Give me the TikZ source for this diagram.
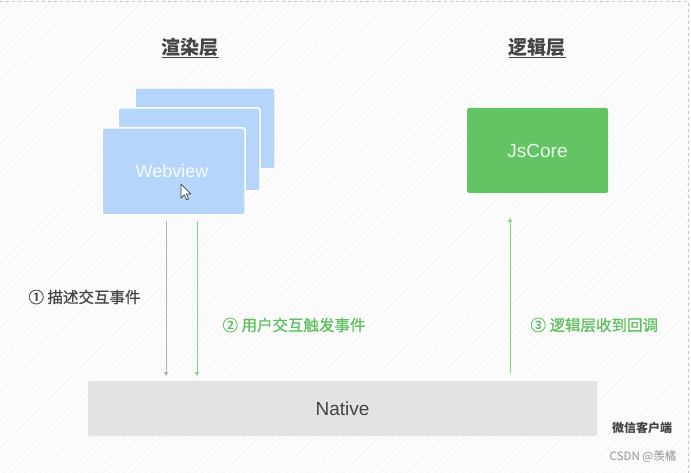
\documentclass[tikz,border=0pt]{standalone}
\usepackage{fontspec}
\setmainfont{Noto Sans CJK SC}
\newfontfamily\latinsans{Liberation Sans}
\newfontfamily\labfont[FakeBold=0.7]{Noto Sans CJK SC}
\usetikzlibrary{arrows.meta,patterns.meta}
\definecolor{webblue}{HTML}{B5D5FB}
\definecolor{jsgreen}{HTML}{63C464}
\definecolor{nativegray}{HTML}{E3E3E4}
\definecolor{linegreen}{HTML}{86D386}
\definecolor{labgreen}{HTML}{5CC05C}
\definecolor{darktext}{HTML}{444444}
\tikzset{
  layertitle/.style={font=\fontsize{19}{19}\selectfont\bfseries, text=darktext},
  webbox/.style={draw=white, line width=1.5pt, fill=webblue, rounded corners=1.5pt},
  jsbox/.style={fill=jsgreen, rounded corners=1.5pt},
  nativebox/.style={fill=nativegray, rounded corners=2pt},
  boxtext/.style={font=\latinsans\fontsize{18}{18}\selectfont, text=white!92!webblue},
  flowlabel/.style={font=\labfont\fontsize{15.5}{15.5}\selectfont},
  grayflow/.style={draw=gray!60, line width=0.9pt, -{Triangle[length=4pt,width=4.5pt]}},
  greenflow/.style={draw=linegreen, line width=0.9pt, -{Triangle[length=4pt,width=4.5pt]}},
}
\begin{document}
\begin{tikzpicture}[x=1pt,y=-1pt]
\useasboundingbox (0,0) rectangle (691,473);
% background
\fill[white!95!gray] (0,0) rectangle (691,473);
\fill[pattern={Lines[angle=45,distance=5pt,line width=1.2pt]}, pattern color=white] (0,0) rectangle (691,473);
\draw[gray!45, dashed, line width=0.6pt] (0,1) -- (688,1) -- (688,473);

% titles
\node[layertitle] (tr) at (190,48) {\underline{渲染层}};
\node[layertitle] (tl) at (537,48) {\underline{逻辑层}};

% webview stack
\draw[webbox] (135,88) rectangle (275,169);
\draw[webbox] (118,108) rectangle (260,191);
\draw[webbox] (102,128) rectangle (245,215);
\node[boxtext] (web) at (172,171) {Webview};
% cursor
\begin{scope}[shift={(181,184)}]
\draw[fill=white, draw=darktext, line width=0.7pt, line join=round]
  (0,0) -- (0,14) -- (3.3,10.8) -- (5.6,15.8) -- (7.6,14.9) -- (5.4,10) -- (9.8,10) -- cycle;
\end{scope}

% JsCore
\fill[jsbox] (467,108) rectangle (608,193);
\node[boxtext, text=white!90!jsgreen, font=\latinsans\fontsize{19}{19}\selectfont] (js) at (537.5,151) {JsCore};

% Native
\fill[nativebox] (88,381) rectangle (597,436);
\node[font=\latinsans\fontsize{19}{19}\selectfont, text=darktext] (nat) at (342.5,409) {Native};

% connector anchors
\coordinate (a1s) at (166,221);
\coordinate (a1e) at (166,376);
\coordinate (a2s) at (197,221);
\coordinate (a2e) at (197,376);
\coordinate (a3s) at (510,373);
\coordinate (a3e) at (510,218);
\draw[grayflow] (a1s) -- (a1e);
\draw[greenflow] (a2s) -- (a2e);
\draw[greenflow] (a3s) -- (a3e);

% labels
\node[flowlabel, text=darktext, anchor=west] (l1) at (25,297) {① 描述交互事件};
\node[flowlabel, text=labgreen, anchor=west] (l2) at (219,325) {② 用户交互触发事件};
\node[flowlabel, text=labgreen, anchor=west] (l3) at (527,325) {③ 逻辑层收到回调};

\node[font=\fontsize{12}{12}\selectfont\bfseries, text=darktext] (wx) at (642,428) {微信客户端};
\node[font=\fontsize{11.5}{12}\selectfont, text=gray!85] (csdn) at (643,457) {CSDN @羡橘};
\end{tikzpicture}
\end{document}
